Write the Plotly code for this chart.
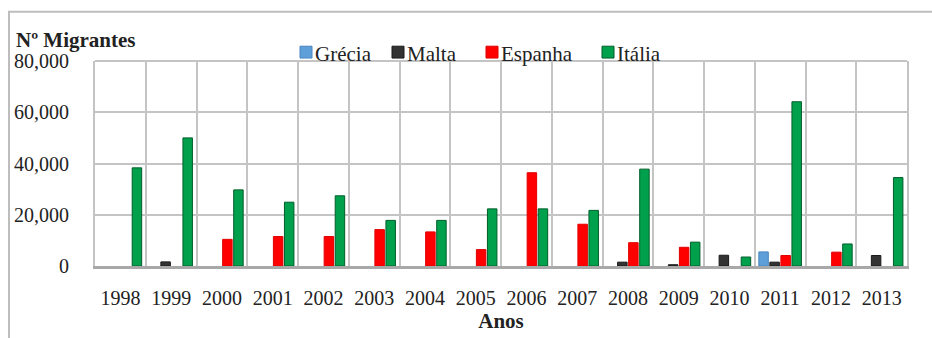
import plotly.graph_objects as go

# Migrantes chegados por via marítima, por país de entrada (None = sem registo)
anos = ["1998", "1999", "2000", "2001", "2002", "2003", "2004", "2005",
        "2006", "2007", "2008", "2009", "2010", "2011", "2012", "2013"]

grecia = [None, None, None, None, None, None, None, None,
          None, None, None, None, None, 5500, None, None]
malta = [None, 1600, None, None, None, None, None, None,
         None, None, 1500, 500, 4200, 1500, None, 4100]
espanha = [None, None, 10400, 11500, 11500, 14200, 13300, 6400,
           36400, 16300, 9100, 7300, None, 4100, 5400, None]
italia = [38300, 50000, 29700, 24900, 27400, 17800, 17800, 22300,
          22300, 21700, 37800, 9300, 3500, 64100, 8600, 34500]

serie_nomes = ["Grécia", "Malta", "Espanha", "Itália"]
serie_valores = [grecia, malta, espanha, italia]
serie_cores = ["#5E9FDA", "#333333", "#FF0000", "#00A04C"]
serie_bordas = ["#4A86BF", "#1A1A1A", "#E00000", "#005E2B"]

FONTE = "Liberation Serif"
COR_TEXTO = "#222222"

# geometria da área do gráfico (px) usada para posicionar a legenda
L, R, T, B = 95, 25, 61, 69
W, H = 932, 338
PW, PH = W - L - R, H - T - B


def px_x(px):
    return (px - L) / PW


def px_y(py):
    return (H - B - py) / PH


fig = go.Figure()
for nome, valores, cor, borda in zip(serie_nomes, serie_valores, serie_cores, serie_bordas):
    fig.add_trace(go.Bar(
        name=nome, x=anos, y=valores,
        marker=dict(color=cor, line=dict(color=borda, width=1)),
        showlegend=False,
    ))

# legenda desenhada manualmente: quadrado de cor + nome
leg_quadrado = [300, 392, 486, 602]
shapes = [
    # moldura exterior
    dict(type="rect", xref="paper", yref="paper",
         x0=px_x(9), x1=px_x(945), y0=px_y(350), y1=px_y(11),
         line=dict(color="#BDBDBD", width=2), fillcolor="rgba(0,0,0,0)", layer="below"),
    # contorno superior da área do gráfico
    dict(type="line", xref="paper", yref="paper", x0=0, x1=1, y0=1, y1=1,
         line=dict(color="#C4C4C4", width=2)),
]
annotations = [
    dict(text="<b>Nº Migrantes</b>", xref="paper", yref="paper",
         x=px_x(14), y=px_y(40), xanchor="left", yanchor="middle", showarrow=False,
         font=dict(family=FONTE, size=21, color=COR_TEXTO)),
]
for nome, cor, borda, x0 in zip(serie_nomes, serie_cores, serie_bordas, leg_quadrado):
    shapes.append(dict(type="rect", xref="paper", yref="paper",
                       x0=px_x(x0), x1=px_x(x0 + 12), y0=px_y(58), y1=px_y(46),
                       fillcolor=cor, line=dict(color=borda, width=1)))
    annotations.append(dict(text=nome, xref="paper", yref="paper",
                            x=px_x(x0 + 13), y=px_y(54), xanchor="left", yanchor="middle",
                            showarrow=False,
                            font=dict(family=FONTE, size=21, color=COR_TEXTO)))

fig.update_layout(
    width=W, height=H,
    margin=dict(l=L, r=R, t=T, b=B),
    paper_bgcolor="white", plot_bgcolor="white",
    barmode="group", bargap=0.13, bargroupgap=0.14,
    font=dict(family=FONTE, size=20, color=COR_TEXTO),
    showlegend=False,
    xaxis=dict(
        type="category", tickson="boundaries", showgrid=True,
        gridcolor="#C4C4C4", gridwidth=2,
        showline=True, linecolor="#A8A8A8", linewidth=3, mirror=False,
        ticks="", ticklabelstandoff=12,
        tickfont=dict(family=FONTE, size=20, color=COR_TEXTO),
        title=dict(text="<b>Anos</b>", font=dict(family=FONTE, size=21, color=COR_TEXTO),
                   standoff=2),
    ),
    yaxis=dict(
        range=[0, 80000], dtick=20000, tickformat=",",
        showgrid=True, gridcolor="#C4C4C4", gridwidth=2,
        zeroline=False, showline=True, linecolor="#C4C4C4", linewidth=2, mirror=True,
        ticks="", ticklabelstandoff=20,
        tickfont=dict(family=FONTE, size=20, color=COR_TEXTO),
    ),
    shapes=shapes,
    annotations=annotations,
)

fig.write_html("out.html")
